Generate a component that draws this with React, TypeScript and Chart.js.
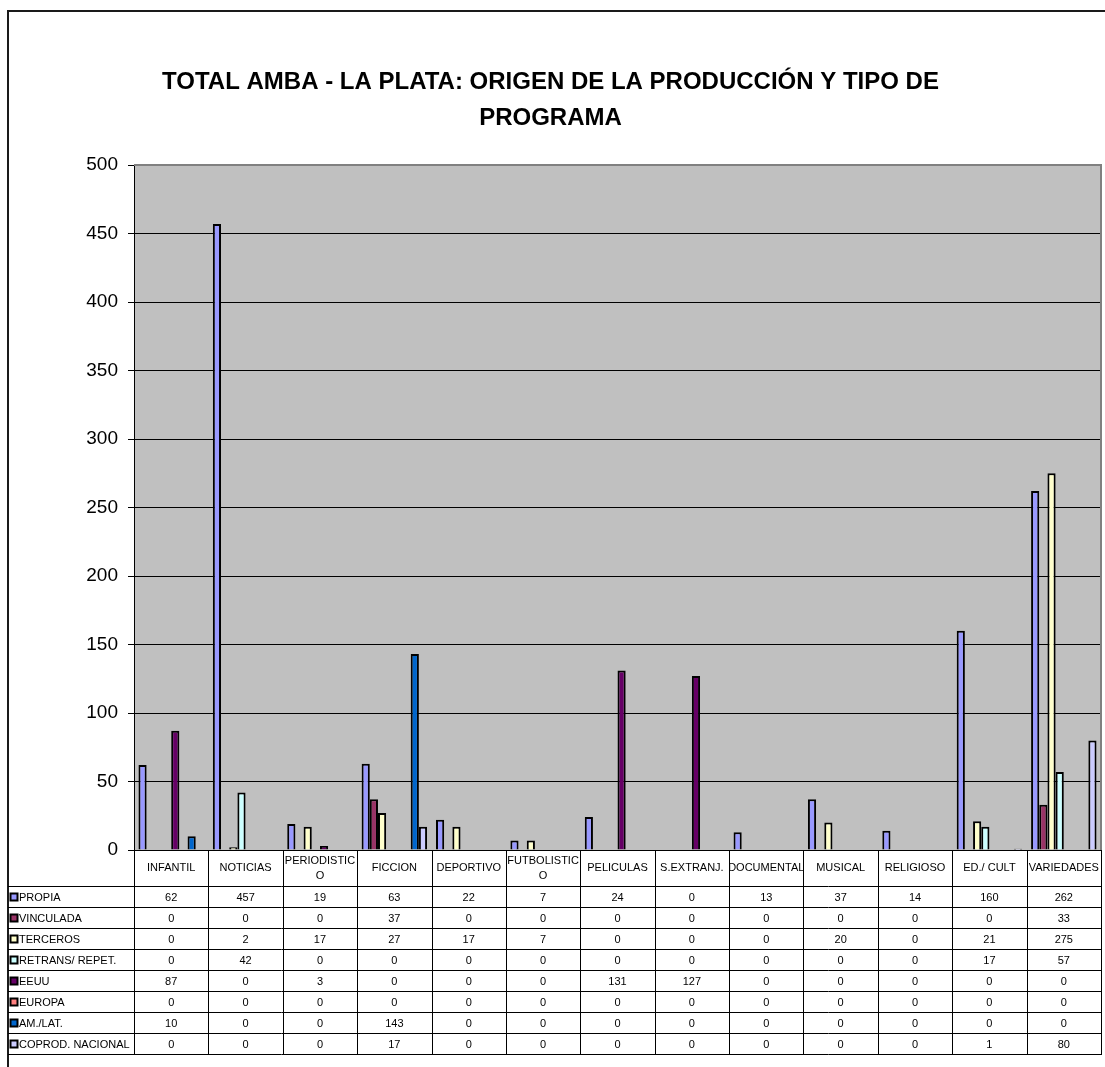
import React, { useEffect, useRef } from "react";
import { Chart, registerables } from "chart.js";

Chart.register(...registerables);

const titleLines = [
  "TOTAL AMBA - LA PLATA: ORIGEN DE LA PRODUCCIÓN Y TIPO DE",
  "PROGRAMA",
];

const categories: (string | string[])[] = [
  "INFANTIL",
  "NOTICIAS",
  ["PERIODISTIC", "O"],
  "FICCION",
  "DEPORTIVO",
  ["FUTBOLISTIC", "O"],
  "PELICULAS",
  "S.EXTRANJ.",
  "DOCUMENTAL",
  "MUSICAL",
  "RELIGIOSO",
  "ED./ CULT",
  "VARIEDADES",
];

const seriesNames = [
  "PROPIA",
  "VINCULADA",
  "TERCEROS",
  "RETRANS/ REPET.",
  "EEUU",
  "EUROPA",
  "AM./LAT.",
  "COPROD. NACIONAL",
];

const propia = [62, 457, 19, 63, 22, 7, 24, 0, 13, 37, 14, 160, 262];
const vinculada = [0, 0, 0, 37, 0, 0, 0, 0, 0, 0, 0, 0, 33];
const terceros = [0, 2, 17, 27, 17, 7, 0, 0, 0, 20, 0, 21, 275];
const retrans = [0, 42, 0, 0, 0, 0, 0, 0, 0, 0, 0, 17, 57];
const eeuu = [87, 0, 3, 0, 0, 0, 131, 127, 0, 0, 0, 0, 0];
const europa = [0, 0, 0, 0, 0, 0, 0, 0, 0, 0, 0, 0, 0];
const amlat = [10, 0, 0, 143, 0, 0, 0, 0, 0, 0, 0, 0, 0];
const coprod = [0, 0, 0, 17, 0, 0, 0, 0, 0, 0, 0, 1, 80];

const seriesValues = [propia, vinculada, terceros, retrans, eeuu, europa, amlat, coprod];

const seriesColors = [
  "#9999FF",
  "#993366",
  "#FFFFCC",
  "#CCFFFF",
  "#660066",
  "#FF8080",
  "#0066CC",
  "#CCCCFF",
];

const yMin = 0;
const yMax = 500;
const yStep = 50;

const FONT = "'Liberation Sans', Arial, Helvetica, sans-serif";
const W = 1105;
const H = 1067;
const BORDER_X = 7;
const BORDER_Y = 10;
const HEADER_H = 36;
const ROW_H = 21;

const framePlugin = {
  id: "frame",
  beforeDraw(chart: any) {
    const { ctx, chartArea: ca } = chart;
    ctx.save();
    ctx.fillStyle = "#ffffff";
    ctx.fillRect(0, 0, chart.width, chart.height);
    ctx.fillStyle = "#C0C0C0";
    ctx.fillRect(ca.left, ca.top, ca.right - ca.left, ca.bottom - ca.top);
    ctx.strokeStyle = "#1a1a1a";
    ctx.lineWidth = 2;
    ctx.beginPath();
    ctx.moveTo(BORDER_X + 1, chart.height);
    ctx.lineTo(BORDER_X + 1, BORDER_Y + 1);
    ctx.lineTo(chart.width, BORDER_Y + 1);
    ctx.stroke();
    ctx.restore();
  },
  afterDatasetsDraw(chart: any) {
    const { ctx, chartArea: ca } = chart;
    ctx.save();
    ctx.strokeStyle = "#808080";
    ctx.lineWidth = 2;
    ctx.beginPath();
    ctx.moveTo(ca.left, ca.top);
    ctx.lineTo(ca.right, ca.top);
    ctx.lineTo(ca.right, ca.bottom);
    ctx.stroke();
    ctx.restore();
  },
};

const tablePlugin = {
  id: "dataTable",
  afterDraw(chart: any) {
    const { ctx, chartArea: ca } = chart;
    const n = categories.length;
    const colW = (ca.right - ca.left) / n;
    const top = ca.bottom;
    const headerBottom = top + HEADER_H;
    const bottom = headerBottom + ROW_H * seriesNames.length;
    ctx.save();
    ctx.strokeStyle = "#000";
    ctx.lineWidth = 1;
    ctx.beginPath();
    for (let i = 0; i <= n; i++) {
      const px = Math.round(ca.left + i * colW) + 0.5;
      ctx.moveTo(px, top);
      ctx.lineTo(px, bottom);
    }
    for (let r = 0; r <= seriesNames.length; r++) {
      const py = Math.round(headerBottom + r * ROW_H) + 0.5;
      ctx.moveTo(BORDER_X + 1, py);
      ctx.lineTo(ca.right + 1, py);
    }
    ctx.stroke();

    ctx.fillStyle = "#000";
    ctx.font = `11px ${FONT}`;
    ctx.textAlign = "center";
    ctx.textBaseline = "middle";
    categories.forEach((c, i) => {
      const cx = ca.left + (i + 0.5) * colW;
      const lines = Array.isArray(c) ? c : [c];
      const lh = 15;
      const cy = top + HEADER_H / 2;
      lines.forEach((t, k) => {
        ctx.fillText(t, cx, cy + (k - (lines.length - 1) / 2) * lh);
      });
    });

    seriesNames.forEach((name, r) => {
      const cy = headerBottom + r * ROW_H + ROW_H / 2 + 1;
      ctx.fillStyle = seriesColors[r];
      ctx.fillRect(10.5, cy - 4, 7, 7);
      ctx.strokeStyle = "#000";
      ctx.lineWidth = 2;
      ctx.strokeRect(10.5, cy - 4, 7, 7);
      ctx.fillStyle = "#000";
      ctx.textAlign = "left";
      ctx.fillText(name, 19, cy);
      ctx.textAlign = "center";
      seriesValues[r].forEach((v, i) => {
        const cx = ca.left + (i + 0.5) * colW;
        ctx.fillText(String(v), cx, cy);
      });
    });
    ctx.restore();
  },
};

export default function App() {
  const ref = useRef<HTMLCanvasElement | null>(null);
  useEffect(() => {
    if (!ref.current) return;
    const chart = new Chart(ref.current, {
      type: "bar",
      data: {
        labels: categories.map((c) => (Array.isArray(c) ? c.join("") : c)),
        datasets: seriesNames.map((name, i) => ({
          label: name,
          data: seriesValues[i],
          backgroundColor: seriesColors[i],
          borderColor: "#000000",
          borderWidth: 2,
          borderSkipped: "bottom" as const,
          categoryPercentage: 0.88,
          barPercentage: 1,
        })),
      },
      options: {
        responsive: false,
        animation: false,
        devicePixelRatio: 1,
        layout: { padding: { left: 0, right: 4, top: 0, bottom: 217 } },
        plugins: {
          legend: { display: false },
          tooltip: { enabled: false },
          title: {
            display: true,
            text: titleLines,
            color: "#000",
            font: { family: FONT, size: 24, weight: "bold", lineHeight: 36 / 24 },
            padding: { top: 64, bottom: 29 },
          },
        },
        scales: {
          x: { display: false },
          y: {
            min: yMin,
            max: yMax,
            afterFit: (s: any) => {
              s.width = 134;
            },
            ticks: {
              stepSize: yStep,
              color: "#000",
              padding: 10,
              font: { family: FONT, size: 19 },
            },
            grid: {
              color: "#000",
              lineWidth: 1,
              tickLength: 6,
              tickColor: "#000",
            },
            border: { color: "#000", width: 1 },
          },
        },
      },
      plugins: [framePlugin, tablePlugin],
    });
    return () => chart.destroy();
  }, []);
  return (
    <div style={{ position: "absolute", left: 0, top: 0, width: W, height: H }}>
      <canvas ref={ref} width={W} height={H} style={{ display: "block" }} />
    </div>
  );
}
